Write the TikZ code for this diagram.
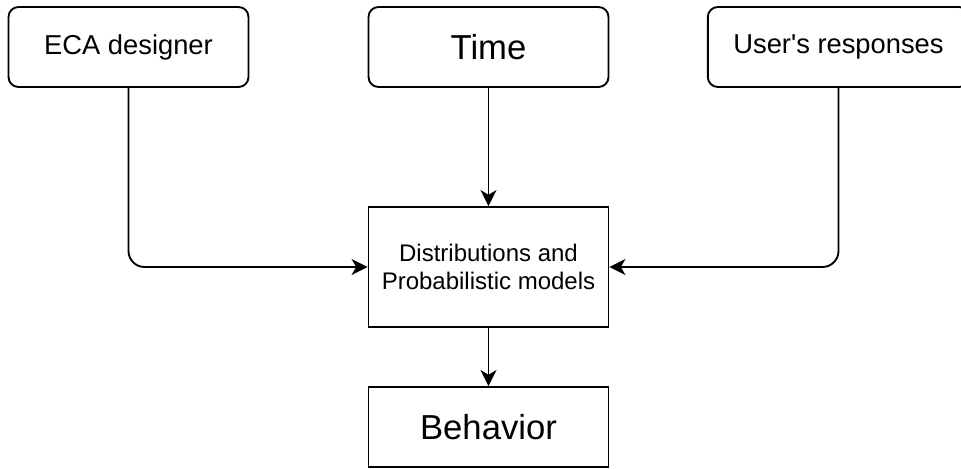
\documentclass[tikz,border=0pt]{standalone}
\usepackage{fontspec}
\setmainfont{Liberation Sans}
\usetikzlibrary{arrows.meta}

\begin{document}
\begin{tikzpicture}[x=0.75pt, y=-0.75pt,
	source/.style={draw, line width=1.4pt, rounded corners=7.5pt, minimum width=180pt, minimum height=60pt, align=center},
	plainbox/.style={draw, line width=1.4pt, minimum width=180pt, align=center},
	arr/.style={line width=1.4pt, -{Stealth[length=12pt, width=12pt, inset=3.5pt]}}]
	\useasboundingbox (0, 0) rectangle (961, 468);

	\node[source, font=\fontsize{20.5}{24}\selectfont] (eca) at (128.5, 47) {ECA designer};
	\node[source, font=\fontsize{26}{30}\selectfont] (time) at (488.5, 47) {Time};
	\node[source, minimum width=196pt, font=\fontsize{20.5}{24}\selectfont] (user) at (838.5, 47) {User\textquotesingle s responses};

	\node[plainbox, minimum height=90pt, font=\fontsize{18}{21}\selectfont] (dist) at (488.5, 267) {Distributions and\\Probabilistic models};
	\node[plainbox, minimum height=60pt, font=\fontsize{26}{30}\selectfont] (beh) at (488.5, 427) {Behavior};

	\draw[arr, rounded corners=12pt] (eca.south) |- (dist.west);
	\draw[arr] (time) -- (dist);
	\draw[arr, rounded corners=12pt] (user.south) |- (dist.east);
	\draw[arr] (dist) -- (beh);
\end{tikzpicture}
\end{document}
